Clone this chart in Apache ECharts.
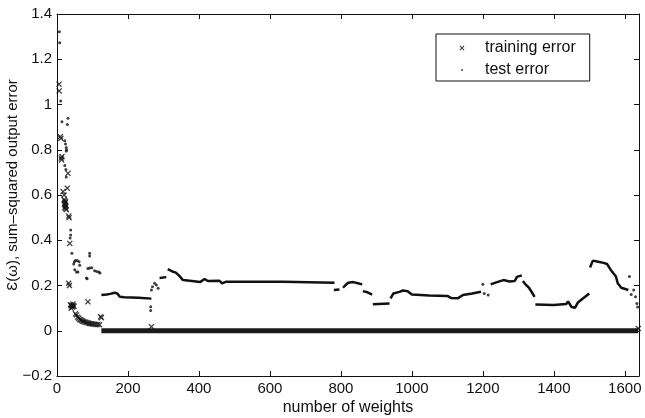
<!DOCTYPE html>
<html>
<head>
<meta charset="utf-8">
<script src="https://cdn.jsdelivr.net/npm/echarts@6/dist/echarts.min.js"></script>
<style>
  html, body { margin: 0; padding: 0; background: #fff; }
  #chart { width: 645px; height: 418px; }
</style>
</head>
<body>
<div id="chart"></div>
<script>
  // tick labels
  const xTicks = [0, 200, 400, 600, 800, 1000, 1200, 1400, 1600]
  const yTicks = [-0.2, 0, 0.2, 0.4, 0.6, 0.8, 1, 1.2, 1.4]

  // training error, the scattered crosses at small sizes
  const trainPoints = [
    [5.7, 1.09], [6, 1.06], [9.5, 0.858], [11, 0.85], [12, 0.763], [14, 0.77], [13, 0.755],
    [31, 0.696], [29, 0.63], [17, 0.615], [20, 0.6],
    [20, 0.58], [22, 0.575], [24, 0.57], [21, 0.56], [23, 0.555], [25, 0.55], [22, 0.545],
    [24, 0.54], [26, 0.535], [23, 0.565],
    [33, 0.507], [34, 0.5], [36, 0.386], [33, 0.21], [35, 0.2],
    [38, 0.115], [40, 0.11], [42, 0.112], [44, 0.105], [46, 0.11], [48, 0.108], [40, 0.1], [45, 0.118],
    [87, 0.128], [123, 0.062], [125, 0.058],
    [52, 0.075], [55, 0.07], [58, 0.06], [61, 0.055], [64, 0.05], [67, 0.048], [70, 0.045],
    [73, 0.042], [76, 0.04], [80, 0.038], [84, 0.036], [88, 0.034], [92, 0.032], [96, 0.031],
    [100, 0.03], [105, 0.029], [110, 0.028], [115, 0.028], [120, 0.027],
    [266, 0.018], [1638, 0.01]
  ]
  // training error from 125 weights on: a solid run of crosses at zero
  const trainFloor = [[125, 0], [1638, 0]]

  // test error, isolated dots
  const testPoints = [
    [6.6, 1.322], [7.6, 1.273], [10.4, 1.015], [14, 0.924], [31, 0.939], [29, 0.912],
    [22, 0.84], [24, 0.825], [26, 0.81], [27, 0.8], [26, 0.795], [22, 0.73], [25, 0.713], [26, 0.68],
    [38.5, 0.445], [38.5, 0.423], [37, 0.41], [42, 0.342], [92, 0.342], [92, 0.33],
    [47, 0.295], [49, 0.305], [52, 0.31], [57, 0.31], [62, 0.305], [64, 0.29],
    [50, 0.27], [55, 0.26], [59, 0.26], [83, 0.233], [85, 0.23],
    [87, 0.275], [92, 0.277], [98, 0.278], [106, 0.265], [112, 0.262], [118, 0.26], [121, 0.255],
    [264, 0.106], [264, 0.09], [266, 0.18], [269, 0.195], [275, 0.21], [280, 0.202], [285, 0.188],
    [1200, 0.205], [1204, 0.165], [1215, 0.158],
    [1613, 0.24], [1618, 0.16], [1625, 0.18], [1630, 0.15], [1634, 0.12], [1636, 0.105]
  ]

  // test error, dense runs that read as a thick dotted line
  const testRuns = [
    [[125, 0.158], [140, 0.16], [150, 0.163], [162, 0.168], [170, 0.165], [177, 0.15], [190, 0.148], [230, 0.146], [266, 0.142]],
    [[289, 0.233], [308, 0.237]],
    [[312, 0.272], [325, 0.262], [335, 0.257], [346, 0.24], [355, 0.224], [380, 0.22], [403, 0.215],
     [416, 0.229], [425, 0.22], [458, 0.221], [465, 0.209], [477, 0.217], [637, 0.217], [640, 0.212], [782, 0.212]],
    [[780, 0.18], [796, 0.182]],
    [[806, 0.19], [812, 0.2], [820, 0.212], [835, 0.215], [848, 0.21], [860, 0.205]],
    [[862, 0.175], [875, 0.17], [888, 0.16]],
    [[890, 0.117], [937, 0.12]],
    [[940, 0.143], [948, 0.165], [965, 0.172], [975, 0.178], [988, 0.175], [1000, 0.16], [1049, 0.156],
     [1100, 0.154], [1110, 0.145], [1130, 0.144], [1144, 0.158], [1170, 0.165], [1195, 0.172]],
    [[1222, 0.205], [1240, 0.215], [1258, 0.224], [1275, 0.218], [1290, 0.22], [1296, 0.238], [1310, 0.245]],
    [[1313, 0.22], [1320, 0.205], [1330, 0.19], [1338, 0.17], [1346, 0.15]],
    [[1348, 0.116], [1400, 0.114], [1435, 0.118], [1440, 0.13], [1450, 0.105], [1460, 0.102],
     [1468, 0.125], [1480, 0.14], [1500, 0.165]],
    [[1502, 0.28], [1510, 0.31], [1525, 0.305], [1540, 0.3], [1550, 0.295], [1560, 0.27],
     [1575, 0.24], [1580, 0.21], [1590, 0.19], [1610, 0.18]]
  ]

  const ink = '#111'
  const font = 'Liberation Sans, Arial, Helvetica, sans-serif'
  const crossPath = 'path://M0,1.5L1.5,0L5,3.5L8.5,0L10,1.5L6.5,5L10,8.5L8.5,10L5,6.5L1.5,10L0,8.5L3.5,5Z'
  // legend icons get padded with empty moves so they stay small
  const crossIcon = 'path://M-3,-3M13,13M0,1.5L1.5,0L5,3.5L8.5,0L10,1.5L6.5,5L10,8.5L8.5,10L5,6.5L1.5,10L0,8.5L3.5,5Z'
  const dotIcon = 'path://M-3,-3M13,13M5,3A2,2,0,1,1,5,7A2,2,0,1,1,5,3Z'

  const fmtY = (v) => {
    const r = Math.round(v * 10) / 10
    return yTicks.some((t) => Math.abs(t - r) < 1e-9) ? String(r).replace('-', '\u2212') : ''
  }
  const fmtX = (v) => (xTicks.indexOf(Math.round(v)) >= 0 ? String(Math.round(v)) : '')

  const tickStyle = { inside: true, length: 5, lineStyle: { color: ink, width: 1 } }
  const lineStyle = { onZero: false, lineStyle: { color: ink, width: 1 } }

  const series = [
    {
      name: 'training error',
      type: 'scatter',
      data: trainPoints,
      symbol: crossPath,
      symbolSize: 6,
      itemStyle: { color: ink },
      z: 3
    },
    {
      name: 'test error',
      type: 'scatter',
      data: testPoints,
      symbol: 'circle',
      symbolSize: 3,
      itemStyle: { color: ink },
      z: 4
    },
    {
      name: 'training floor',
      type: 'line',
      data: trainFloor,
      showSymbol: false,
      lineStyle: { color: '#1a1a1a', width: 5 },
      z: 2
    }
  ]
  testRuns.forEach((run, i) => {
    series.push({
      name: 'test run ' + i,
      type: 'line',
      data: run,
      showSymbol: false,
      lineStyle: { color: ink, width: 2.5 },
      z: 4
    })
  })

  const chart = echarts.init(document.getElementById('chart'))
  chart.setOption({
    animation: false,
    backgroundColor: '#fff',
    textStyle: { fontFamily: font, color: ink },
    grid: { left: 57, right: 6, top: 14, bottom: 42, outerBoundsMode: 'none', containLabel: false },
    legend: {
      orient: 'vertical',
      left: 436,
      top: 34,
      padding: [6, 14, 3, 22],
      itemGap: 6,
      itemWidth: 36,
      itemHeight: 8,
      symbolKeepAspect: true,
      borderColor: ink,
      borderWidth: 1,
      borderRadius: 0,
      backgroundColor: '#fff',
      textStyle: { fontFamily: font, fontSize: 16, color: ink },
      data: [
        { name: 'training error', icon: crossIcon, itemStyle: { color: ink } },
        { name: 'test error', icon: dotIcon, itemStyle: { color: ink } }
      ]
    },
    xAxis: [
      {
        type: 'value',
        min: 0,
        max: 1640,
        interval: 200,
        name: 'number of weights',
        nameLocation: 'middle',
        nameGap: 24,
        nameMoveOverlap: false,
        nameTextStyle: { fontFamily: font, fontSize: 16, color: ink },
        axisLine: lineStyle,
        axisTick: tickStyle,
        axisLabel: { formatter: fmtX, fontFamily: font, fontSize: 15, color: ink, margin: 5 },
        splitLine: { show: false }
      },
      {
        type: 'value',
        position: 'top',
        min: 0,
        max: 1640,
        interval: 200,
        axisLine: lineStyle,
        axisTick: tickStyle,
        axisLabel: { show: false },
        splitLine: { show: false }
      }
    ],
    yAxis: [
      {
        type: 'value',
        min: -0.2,
        max: 1.4,
        interval: 0.2,
        name: '\u0190(\u03c9), sum\u2013squared output error',
        nameLocation: 'middle',
        nameGap: 37,
        nameMoveOverlap: false,
        nameTextStyle: { fontFamily: font, fontSize: 15, color: ink, padding: [0, 0, 0, 20] },
        axisLine: lineStyle,
        axisTick: tickStyle,
        axisLabel: { formatter: fmtY, fontFamily: font, fontSize: 15, color: ink, margin: 5 },
        splitLine: { show: false }
      },
      {
        type: 'value',
        position: 'right',
        min: -0.2,
        max: 1.4,
        interval: 0.2,
        axisLine: lineStyle,
        axisTick: tickStyle,
        axisLabel: { show: false },
        splitLine: { show: false }
      }
    ],
    series: series
  })
</script>
</body>
</html>
